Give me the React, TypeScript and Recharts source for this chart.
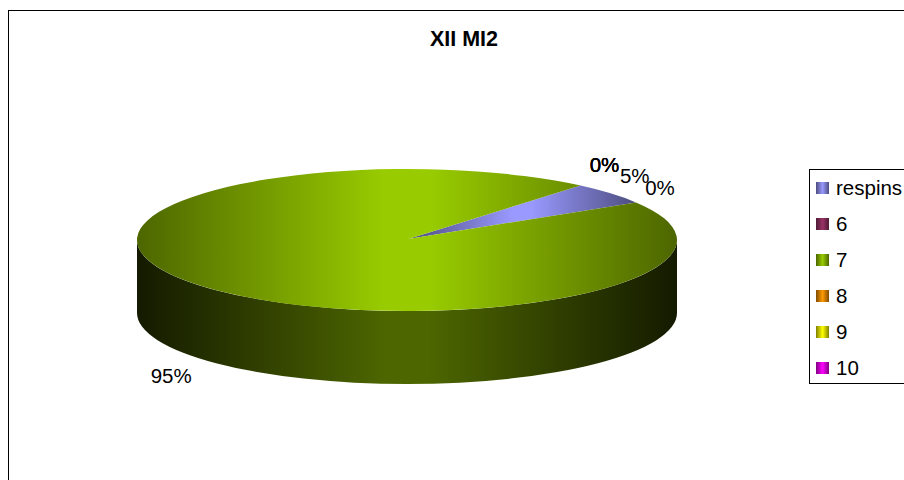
import { Cell, Legend, Pie, PieChart } from 'recharts';

const GRADES = ['respins', '6', '7', '8', '9', '10'];
const COUNTS = [1, 0, 19, 0, 0, 0];
const COLORS = ['#9999ff', '#993366', '#99cc00', '#ff9900', '#ffff00', '#ff00ff'];
const DARK_COLORS = ['#4d4d80', '#4d1a33', '#4d6600', '#804d00', '#808000', '#800080'];

const CHART_TITLE = 'XII MI2';
const FONT = '"Liberation Sans", Arial, sans-serif';

const RX = 270;
const RY = 71;
const DEPTH = 73;
const TIP_SHIFT = 1;

const data = GRADES.map((name, i) => ({ name, value: COUNTS[i] }));

const rad = (a: number) => (a * Math.PI) / 180;

function pt(cx: number, cy: number, a: number) {
  return [cx + RX * Math.cos(rad(a)), cy - RY * Math.sin(rad(a))];
}

// pie slice squashed to an ellipse, with its side wall underneath
function Slice3D(props: any) {
  const { cx, cy, startAngle, endAngle, index } = props;
  if (Math.abs(startAngle - endAngle) < 0.01) return null;
  const [sx, sy] = pt(cx, cy, startAngle);
  const [ex, ey] = pt(cx, cy, endAngle);
  const large = Math.abs(startAngle - endAngle) > 180 ? 1 : 0;
  const top = `M${cx + TIP_SHIFT},${cy - 1} L${sx},${sy} A${RX},${RY} 0 ${large} 1 ${ex},${ey} Z`;

  const hi = Math.min(startAngle, 0);
  const lo = Math.max(endAngle, -180);
  let wall = null;
  if (hi > lo) {
    const [hx, hy] = pt(cx, cy, hi);
    const [lx, ly] = pt(cx, cy, lo);
    const d =
      `M${hx},${hy} A${RX},${RY} 0 0 1 ${lx},${ly} L${lx},${ly + DEPTH} ` +
      `A${RX},${RY} 0 0 0 ${hx},${hy + DEPTH} Z`;
    wall = <path d={d} fill={`url(#side-${index})`} />;
  }
  return (
    <g>
      {wall}
      <path d={top} fill={`url(#top-${index})`} />
    </g>
  );
}

function renderLabel(props: any) {
  const { cx, cy, midAngle, percent } = props;
  const [x, y] = pt(cx, cy, midAngle);
  const c = Math.cos(rad(midAngle));
  const s = Math.sin(rad(midAngle));
  const lx = x + (c >= 0 ? 24 : -32);
  const ly = y + (s >= 0 ? 0 : DEPTH) - 26 * s - 1;
  return (
    <text
      x={lx}
      y={ly}
      textAnchor="middle"
      dominantBaseline="central"
      fontFamily={FONT}
      fontSize={20.5}
      fill="#000"
    >
      {`${Math.round(percent * 100)}%`}
    </text>
  );
}

function LegendBox() {
  return (
    <div
      style={{
        boxSizing: 'border-box',
        width: 110,
        height: 215,
        border: '1px solid #000',
        background: '#fff',
        fontFamily: FONT,
        fontSize: 20.5,
        color: '#000',
      }}
    >
      {GRADES.map((g, i) => (
        <div
          key={g}
          style={{
            position: 'absolute',
            left: 7,
            top: 13 + i * 36,
            width: 100,
            height: 12,
            display: 'flex',
            alignItems: 'center',
          }}
        >
          <span
            style={{
              display: 'inline-block',
              width: 13,
              height: 12,
              flex: 'none',
              background: `linear-gradient(to right, ${DARK_COLORS[i]}, ${COLORS[i]} 50%, ${DARK_COLORS[i]})`,
            }}
          />
          <span style={{ marginLeft: 7, lineHeight: '10px' }}>{g}</span>
        </div>
      ))}
    </div>
  );
}

export default function App() {
  return (
    <div
      style={{
        position: 'absolute',
        left: 0,
        top: 0,
        width: 904,
        height: 480,
        overflow: 'hidden',
        background: '#fff',
      }}
    >
      <div
        style={{
          position: 'absolute',
          left: 8,
          top: 10,
          width: 1000,
          height: 600,
          borderLeft: '1px solid #000',
          borderTop: '1px solid #000',
        }}
      />
      <PieChart width={904} height={480} margin={{ top: 0, right: 0, bottom: 0, left: 0 }}>
        <defs>
          {COLORS.map((c, i) => (
            <linearGradient key={`top-${i}`} id={`top-${i}`} x1={0} x2={1} y1={0} y2={0}>
              <stop offset="0" stopColor={DARK_COLORS[i]} />
              <stop offset="0.46" stopColor={c} />
              <stop offset="0.54" stopColor={c} />
              <stop offset="1" stopColor={DARK_COLORS[i]} />
            </linearGradient>
          ))}
          {COLORS.map((c, i) => (
            <linearGradient key={`side-${i}`} id={`side-${i}`} x1={0} x2={1} y1={0} y2={0}>
              <stop offset="0" stopColor="#141a00" />
              <stop offset="0.46" stopColor={DARK_COLORS[i]} />
              <stop offset="0.54" stopColor={DARK_COLORS[i]} />
              <stop offset="1" stopColor="#141a00" />
            </linearGradient>
          ))}
        </defs>
        <text
          x={464}
          y={39}
          textAnchor="middle"
          dominantBaseline="central"
          fontFamily={FONT}
          fontSize={21.5}
          fontWeight="bold"
          fill="#000"
        >
          {CHART_TITLE}
        </text>
        <Pie
          data={data}
          dataKey="value"
          nameKey="name"
          cx={407}
          cy={240}
          outerRadius={RX}
          startAngle={50}
          endAngle={-310}
          stroke="none"
          shape={Slice3D}
          label={renderLabel}
          labelLine={false}
          isAnimationActive={false}
        >
          {GRADES.map((g, i) => (
            <Cell key={g} fill={COLORS[i]} />
          ))}
        </Pie>
        <Legend
          content={<LegendBox />}
          layout="vertical"
          align="right"
          verticalAlign="top"
          wrapperStyle={{ left: 809, top: 169, right: 'auto', width: 110, height: 215 }}
        />
      </PieChart>
    </div>
  );
}
